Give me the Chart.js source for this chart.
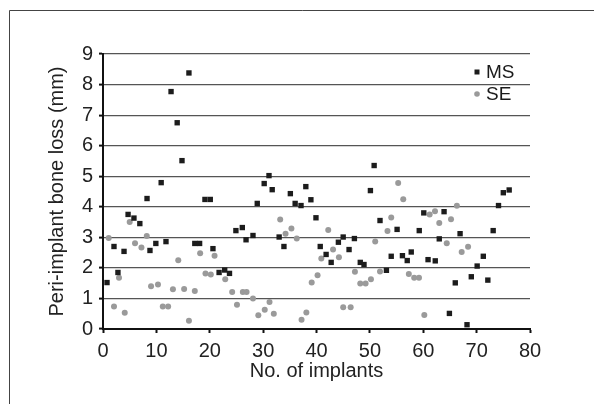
<!DOCTYPE html>
<html>
<head>
<meta charset="utf-8">
<script src="https://cdn.jsdelivr.net/npm/chart.js@4/dist/chart.umd.min.js"></script>
<style>
html,body{margin:0;padding:0;background:#fff;}
#wrap{width:594px;height:404px;position:relative;}
</style>
</head>
<body>
<div id="wrap"><canvas id="c" width="594" height="404"></canvas></div>
<script>
// MS series: implant number (x) and bone loss (y)
const msX = [0.75,2.06,2.8,3.94,4.7,5.8,6.9,8.25,8.8,9.9,10.9,11.8,12.75,13.9,14.8,16.1,17.2,18.1,19.1,20.1,20.6,21.75,22.8,23.7,24.9,26.1,26.8,28.1,28.9,30.2,31.1,31.7,33.0,33.9,35.1,36.0,37.1,38.0,38.95,39.9,40.7,41.8,42.75,44.1,45.0,46.1,47.1,48.2,48.9,50.1,50.8,51.9,53.1,54.0,55.1,56.1,57.0,57.75,59.25,60.1,60.9,62.25,63.0,63.9,64.9,66.0,66.9,68.2,69.0,70.1,71.25,72.1,73.1,74.1,75.0,76.1];
const msY = [1.52,2.70,1.85,2.54,3.75,3.63,3.45,4.27,2.57,2.80,4.79,2.86,7.77,6.75,5.51,8.38,2.80,2.80,4.24,4.24,2.63,1.85,1.93,1.82,3.22,3.32,2.92,3.06,4.11,4.76,5.02,4.56,3.01,2.70,4.43,4.11,4.04,4.66,4.23,3.64,2.70,2.44,2.18,2.84,3.01,2.60,2.96,2.18,2.11,4.53,5.35,3.55,1.92,2.38,3.26,2.40,2.24,2.52,3.22,3.80,2.27,2.23,2.95,3.84,0.51,1.51,3.12,0.14,1.71,2.06,2.38,1.60,3.22,4.04,4.46,4.55];
// SE series
const seX = [1.07,2.06,3.0,4.07,5.0,6.0,7.2,8.2,9.0,10.3,11.2,12.2,13.1,14.1,15.2,16.1,17.2,18.2,19.2,20.2,20.9,22.9,24.2,25.1,26.2,26.9,28.1,29.1,30.3,31.2,32.0,33.2,34.2,35.3,36.3,37.2,38.1,39.1,40.2,40.9,42.2,43.1,44.2,45.0,46.4,47.2,48.2,49.2,50.2,51.0,51.9,53.3,54.0,55.3,56.25,57.3,58.3,59.2,60.2,61.2,62.2,63.0,64.4,65.2,66.3,67.2,68.4];
const seY = [2.98,0.74,1.68,0.53,3.50,2.81,2.67,3.04,1.40,1.46,0.74,0.74,1.30,2.25,1.31,0.27,1.24,2.48,1.82,1.78,2.40,1.63,1.21,0.79,1.21,1.21,1.00,0.45,0.63,0.88,0.50,3.58,3.12,3.29,2.96,0.30,0.54,1.52,1.76,2.31,3.24,2.60,2.35,0.71,0.71,1.87,1.49,1.49,1.63,2.86,1.88,3.21,3.65,4.78,4.25,1.80,1.68,1.68,0.46,3.75,3.85,3.47,2.81,3.59,4.03,2.52,2.69];
const seriesNames = ["MS","SE"];
const xTitle = "No. of implants";
const yTitle = "Peri-implant bone loss (mm)";

const FONT = "'Liberation Sans', Arial, sans-serif";
const toPts = (xs, ys) => xs.map((x, i) => ({x: x, y: ys[i]}));

const framePlugin = {
  id: 'frame',
  beforeDraw(chart) {
    const ctx = chart.ctx;
    ctx.save();
    ctx.fillStyle = '#fff';
    ctx.fillRect(0, 0, chart.width, chart.height);
    ctx.strokeStyle = '#444';
    ctx.lineWidth = 1;
    ctx.beginPath();
    ctx.moveTo(9.5, chart.height + 2);
    ctx.lineTo(9.5, 10.5);
    ctx.lineTo(chart.width + 2, 10.5);
    ctx.stroke();
    ctx.restore();
  }
};

const legendPlugin = {
  id: 'innerLegend',
  afterDatasetsDraw(chart) {
    const ctx = chart.ctx;
    const a = chart.chartArea;
    ctx.save();
    ctx.font = "19px " + FONT;
    ctx.textBaseline = 'middle';
    ctx.textAlign = 'left';
    const items = chart.data.datasets;
    const x0 = a.right - 53;
    const ys = [a.top + 18, a.top + 40];
    items.forEach((ds, i) => {
      ctx.fillStyle = ds.backgroundColor;
      if (ds.pointStyle === 'rect') {
        ctx.fillRect(x0 - 2.5, ys[i] - 2.5, 5, 5);
      } else {
        ctx.beginPath();
        ctx.arc(x0, ys[i], 2.8, 0, Math.PI * 2);
        ctx.fill();
      }
      ctx.fillStyle = '#1a1a1a';
      ctx.fillText(ds.label, x0 + 9, ys[i] + 1);
    });
    ctx.restore();
  }
};

new Chart(document.getElementById('c'), {
  type: 'scatter',
  data: {
    datasets: [
      { label: seriesNames[0], data: toPts(msX, msY), pointStyle: 'rect', pointRadius: 3.8, pointBorderWidth: 0, backgroundColor: '#1c1c1c', borderColor: '#1c1c1c' },
      { label: seriesNames[1], data: toPts(seX, seY), pointStyle: 'circle', pointRadius: 3, pointBorderWidth: 0, backgroundColor: '#9a9a9a', borderColor: '#9a9a9a' }
    ]
  },
  options: {
    responsive: false,
    animation: false,
    devicePixelRatio: 1,
    layout: { padding: { left: 0, top: 54, right: 64, bottom: 0 } },
    plugins: { legend: { display: false }, tooltip: { enabled: false } },
    scales: {
      x: {
        type: 'linear', min: 0, max: 80,
        ticks: { stepSize: 10, color: '#222', font: { size: 20, family: FONT }, padding: 6, maxRotation: 0 },
        grid: { drawOnChartArea: false, drawTicks: true, tickLength: 4, tickColor: '#111', tickWidth: 2 },
        border: { display: true, color: '#111', width: 2 },
        title: { display: true, text: xTitle, color: '#222', font: { size: 20, family: FONT }, padding: { top: 0, bottom: 21 } },
        afterFit(s) { s.height = 75; }
      },
      y: {
        min: 0, max: 9,
        ticks: { stepSize: 1, color: '#222', font: { size: 20, family: FONT }, padding: 6 },
        grid: { color: '#555', lineWidth: 1.2, drawTicks: true, tickLength: 4, tickColor: '#111', tickWidth: 2 },
        border: { display: true, color: '#111', width: 2 },
        title: { display: true, text: yTitle, color: '#222', font: { size: 20, family: FONT }, padding: { top: 45, bottom: 0 } },
        afterFit(s) { s.width = 103; }
      }
    }
  },
  plugins: [framePlugin, legendPlugin]
});
</script>
</body>
</html>
